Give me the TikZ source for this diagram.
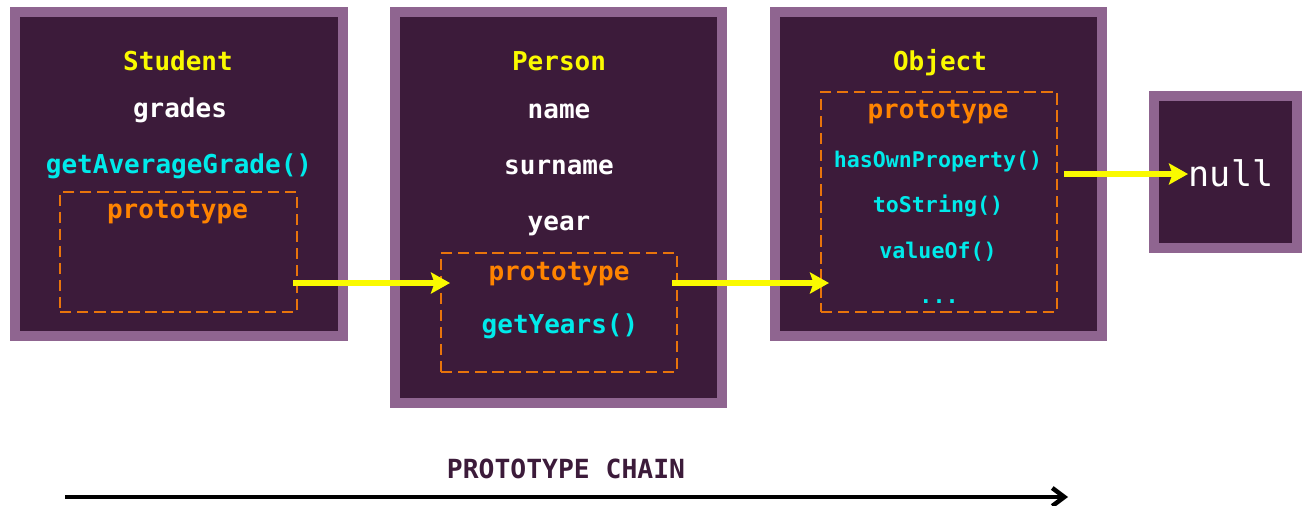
\documentclass[tikz,border=0pt]{standalone}
\usepackage{fontspec}
\newfontfamily\codefont{DejaVu Sans Mono}
\usepackage{tikz}
\usetikzlibrary{positioning, arrows.meta}

\definecolor{boxfill}{HTML}{3C1B3A}
\definecolor{boxedge}{HTML}{8F6590}
\definecolor{protoorange}{HTML}{FF8400}
\definecolor{dashorange}{HTML}{E8740C}
\definecolor{methodcyan}{HTML}{00EAEA}
\definecolor{titleyellow}{HTML}{FAFA00}

\begin{document}
\begin{tikzpicture}[
    objstyle/.style={rectangle, draw=boxedge, fill=boxfill, line width=0.2cm,
        inner sep=0pt, outer sep=0pt},
    protostyle/.style={rectangle, draw=dashorange, line width=1.6pt,
        dash pattern=on 6.5pt off 3.2pt, inner sep=0pt},
    titlestyle/.style={anchor=base, text=titleyellow,
        font=\codefont\bfseries\fontsize{14.8}{16}\selectfont},
    fieldstyle/.style={anchor=base, text=white,
        font=\codefont\bfseries\fontsize{14.8}{16}\selectfont},
    methodstyle/.style={anchor=base, text=methodcyan,
        font=\codefont\bfseries\fontsize{14.8}{16}\selectfont},
    smallmethodstyle/.style={anchor=base, text=methodcyan,
        font=\codefont\bfseries\fontsize{12.3}{14}\selectfont},
    protolabelstyle/.style={anchor=base, text=protoorange,
        font=\codefont\bfseries\fontsize{14.8}{16}\selectfont},
    nullstyle/.style={anchor=base, text=white,
        font=\codefont\fontsize{20}{22}\selectfont},
    chainstyle/.style={anchor=base, text=boxfill,
        font=\codefont\bfseries\fontsize{15}{17}\selectfont},
    linkstyle/.style={draw=titleyellow, line width=0.12cm,
        -{Stealth[length=0.38cm, width=0.42cm, inset=0.07cm]}},
    chainarrowstyle/.style={draw=black, line width=0.09cm,
        -{Straight Barb[length=0.24cm, width=0.36cm]}}
]
\useasboundingbox (0,0) rectangle (26.04,-10.10);

% object boxes
\node[objstyle, minimum width=6.56cm, minimum height=6.48cm] (student) at (3.58,-3.48) {};
\node[objstyle, minimum width=6.54cm, minimum height=7.82cm] (person) at (11.17,-4.15) {};
\node[objstyle, minimum width=6.54cm, minimum height=6.48cm] (object) at (18.77,-3.48) {};
\node[objstyle, minimum width=2.86cm, minimum height=3.04cm] (nullbox) at (24.51,-3.44) {};

% prototype boxes
\node[protostyle, minimum width=4.74cm, minimum height=2.40cm] (sproto) at (3.57,-5.04) {};
\node[protostyle, minimum width=4.72cm, minimum height=2.38cm] (pproto) at (11.18,-6.25) {};
\node[protostyle, minimum width=4.72cm, minimum height=4.40cm] (oproto) at (18.78,-4.04) {};

% Student
\node[titlestyle] (stitle) at (3.56,-1.40) {Student};
\node[fieldstyle] (sgrades) at (3.60,-2.34) {grades};
\node[methodstyle] (savg) at (3.58,-3.46) {getAverageGrade()};
\node[protolabelstyle] (slabel) at (3.55,-4.36) {prototype};

% Person
\node[titlestyle] (ptitle) at (11.18,-1.40) {Person};
\node[fieldstyle] (pname) at (11.18,-2.36) {name};
\node[fieldstyle] (psurname) at (11.18,-3.48) {surname};
\node[fieldstyle] (pyear) at (11.18,-4.60) {year};
\node[protolabelstyle] (plabel) at (11.18,-5.60) {prototype};
\node[methodstyle] (pyears) at (11.20,-6.66) {getYears()};

% Object
\node[titlestyle] (otitle) at (18.80,-1.40) {Object};
\node[protolabelstyle] (olabel) at (18.76,-2.36) {prototype};
\node[smallmethodstyle] (oown) at (18.76,-3.34) {hasOwnProperty()};
\node[smallmethodstyle] (ostring) at (18.76,-4.24) {toString()};
\node[smallmethodstyle] (ovalue) at (18.76,-5.16) {valueOf()};
\node[smallmethodstyle] (odots) at (18.78,-6.06) {...};

% null
\node[nullstyle] (nulltext) at (24.62,-3.72) {null};

% links between prototypes
\coordinate (sout) at (5.86,-5.66);
\coordinate (pin) at (9.00,-5.66);
\coordinate (pout) at (13.44,-5.66);
\coordinate (oin) at (16.58,-5.66);
\coordinate (oout) at (21.28,-3.48);
\coordinate (nin) at (23.76,-3.48);
\draw[linkstyle] (sout) -- (pin);
\draw[linkstyle] (pout) -- (oin);
\draw[linkstyle] (oout) -- (nin);

% chain direction
\node[chainstyle] (chain) at (11.32,-9.56) {PROTOTYPE CHAIN};
\coordinate (cstart) at (1.30,-9.94);
\coordinate (cend) at (21.36,-9.94);
\draw[chainarrowstyle] (cstart) -- (cend);

\end{tikzpicture}
\end{document}
